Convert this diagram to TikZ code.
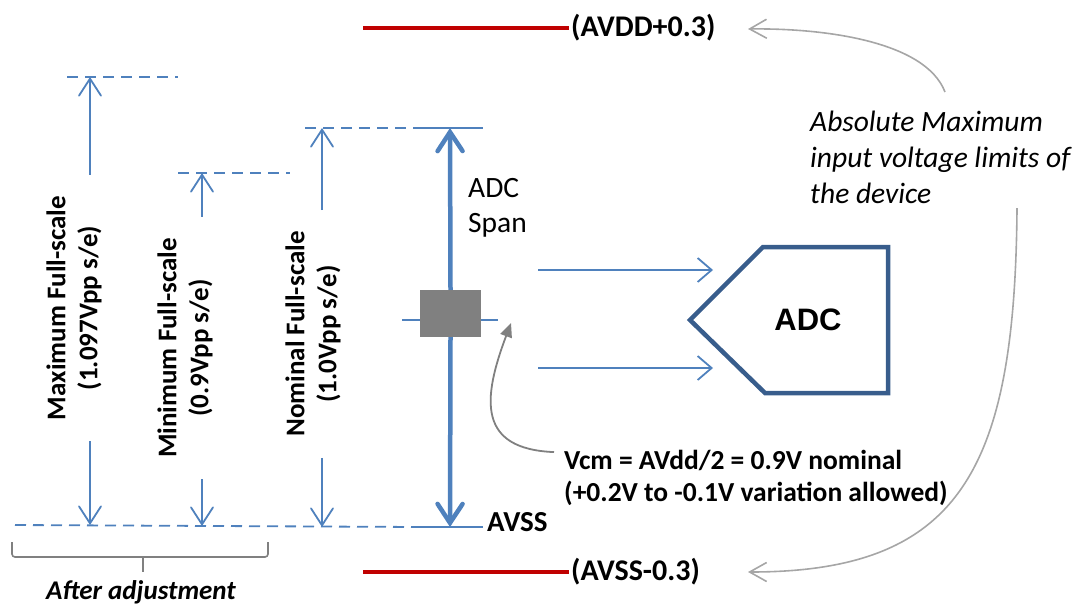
\documentclass[tikz,border=0pt]{standalone}
\usepackage{fontspec}
\setmainfont{Carlito}
\newfontfamily\adcfont{Liberation Sans}
\usetikzlibrary{arrows.meta}
\definecolor{spanblue}{RGB}{79,129,189}
\definecolor{adcblue}{RGB}{56,93,140}
\definecolor{limitred}{RGB}{192,0,0}
\definecolor{notegray}{RGB}{166,166,166}
\definecolor{boxgray}{RGB}{128,128,128}
\tikzset{x=1pt, y=-1pt,
    every node/.style={font=\fontsize{27}{32}\selectfont, inner sep=2pt},
    limitlbl/.style={anchor=west, font=\bfseries\fontsize{30}{34}\selectfont},
    dimline/.style={draw=spanblue, line width=1.8pt, dash pattern=on 11pt off 7pt},
    refline/.style={draw=spanblue, line width=1.8pt},
    dimarrow/.style={draw=spanblue, line width=1.8pt, -{Straight Barb[length=17pt,width=22pt,line cap=round]}},
    spanarrow/.style={draw=spanblue, line width=4.5pt, -{Straight Barb[length=19pt,width=25pt,line cap=round]}},
    inarrow/.style={draw=spanblue, line width=1.8pt, -{Straight Barb[length=14pt,width=24pt]}},
    limitline/.style={draw=limitred, line width=3.5pt},
    notearrow/.style={draw=notegray, line width=1.6pt, -{Straight Barb[length=17pt,width=19pt]}},
    vcmarrow/.style={draw=boxgray, line width=1.8pt, -{Triangle[length=14pt,width=12pt]}},
    scalelbl/.style={rotate=90, align=center, font=\bfseries\fontsize{27}{32}\selectfont, inner xsep=21pt, inner ysep=0pt},
    }
\begin{document}
\begin{tikzpicture}
\useasboundingbox (0,0) rectangle (1075,606);
% absolute limits
\node[limitlbl] (avddlim) at (569,28) {(AVDD+0.3)};
\node[limitlbl] (avsslim) at (569,572) {(AVSS-0.3)};
\coordinate (avddleft) at (363,28);
\coordinate (avssleft) at (363,572);
\draw[limitline] (avddleft) -- (avddlim.west);
\draw[limitline] (avssleft) -- (avsslim.west);
\node[anchor=west, align=left, font=\itshape\fontsize{29.5}{36}\selectfont] (absmax) at (808,157)
    {Absolute Maximum\\input voltage limits of\\the device};
\coordinate (abstop) at (945,92);
\coordinate (absbot) at (1017,208);
\coordinate (avddtip) at (748,29);
\coordinate (avsstip) at (748,572);
\draw[notearrow] (abstop) .. controls (925,40) and (820,28) .. (avddtip);
\draw[notearrow] (absbot) .. controls (1015,470) and (960,572) .. (avsstip);
% full-scale ranges
\coordinate (maxtop) at (90,77);
\coordinate (mintop) at (202,173);
\coordinate (nomtop) at (322,128);
\coordinate (maxbot) at (90,525);
\coordinate (minbot) at (202,526);
\coordinate (nombot) at (322,527);
\draw[dimline] (67,77) -- (178,77);
\draw[dimline] (178,173) -- (290,173);
\draw[dimline] (305,128) -- (420,128);
\draw[dimline] (15,525) -- (420,527);
\node[scalelbl] (maxlbl) at (74,308) {Maximum Full-scale\\(1.097Vpp s/e)};
\node[scalelbl] (minlbl) at (185,348) {Minimum Full-scale\\(0.9Vpp s/e)};
\node[scalelbl] (nomlbl) at (313,334) {Nominal Full-scale\\(1.0Vpp s/e)};
\draw[dimarrow] (maxlbl.east -| maxtop) -- (maxtop);
\draw[dimarrow] (maxlbl.west -| maxbot) -- (maxbot);
\draw[dimarrow] (minlbl.east -| mintop) -- (mintop);
\draw[dimarrow] (minlbl.west -| minbot) -- (minbot);
\draw[dimarrow] (nomlbl.east -| nomtop) -- (nomtop);
\draw[dimarrow] (nomlbl.west -| nombot) -- (nombot);
% ADC span
\coordinate (spantop) at (450,128);
\coordinate (spanbot) at (450,527);
\draw[refline] (420,128) -- (483,128);
\draw[refline] (420,527) -- (483,527);
\draw[refline] (402,320) -- (498,320);
\node[fill=boxgray, minimum width=61pt, minimum height=47pt, inner sep=0pt] (cmbox) at (450.5,313.5) {};
\draw[spanarrow] (cmbox.north) -- (spantop);
\draw[spanarrow] (cmbox.south) -- (spanbot);
\node[anchor=west, align=left, font=\fontsize{29.5}{35}\selectfont] (spanlbl) at (466,208) {ADC\\Span};
\node[anchor=west, font=\bfseries\fontsize{29}{32}\selectfont] (avsslbl) at (485,522) {AVSS};
% ADC block
\node[font=\adcfont\bfseries\fontsize{31}{36}\selectfont] (adc) at (808,320) {ADC};
\draw[adcblue, line width=4.5pt, line join=miter] (690,320) -- (763,247) -- (888,247) -- (888,393) -- (765,393) -- cycle;
\coordinate (inpstart) at (538,270);
\coordinate (inpend) at (713,270);
\coordinate (innstart) at (538,368);
\coordinate (innend) at (713,368);
\draw[inarrow] (inpstart) -- (inpend);
\draw[inarrow] (innstart) -- (innend);
% common mode note
\node[anchor=west, align=left, font=\bfseries\fontsize{27.5}{32}\selectfont] (vcmlbl) at (562,478)
    {Vcm = AVdd/2 = 0.9V nominal\\(+0.2V to -0.1V variation allowed)};
\coordinate (vcmtip) at (511,323);
\draw[vcmarrow] ([xshift=-8pt,yshift=-4pt]vcmlbl.north west) .. controls (478,449) and (482,400) .. (vcmtip);
% after adjustment
\draw[boxgray, line width=1.6pt, rounded corners=3pt] (12,542) -- (12,557) -- (268,557) -- (268,542);
\draw[boxgray, line width=1.6pt] (143,557) -- (143,572);
\node[font=\bfseries\itshape\fontsize{27}{32}\selectfont] (adjlbl) at (141,592) {After adjustment};
\end{tikzpicture}
\end{document}
